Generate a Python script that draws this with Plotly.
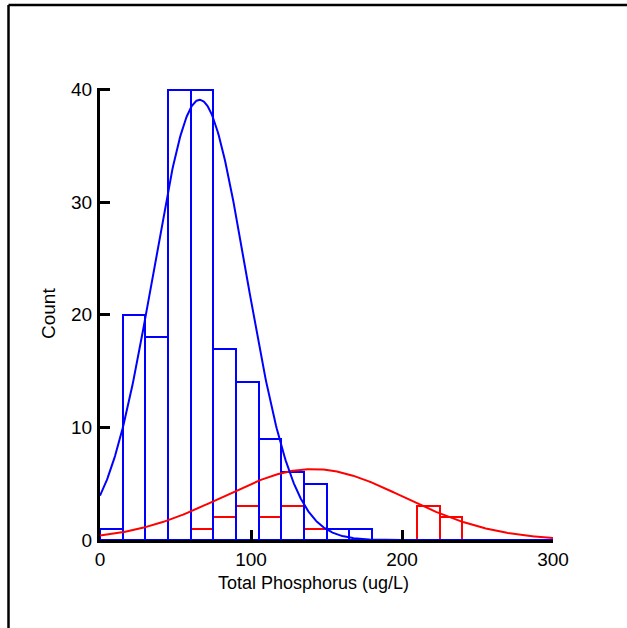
import numpy as np
import plotly.graph_objects as go

# ---- data ----
bin_width = 15
blue_bin_starts = [0, 15, 30, 45, 60, 75, 90, 105, 120, 135, 150, 165]
blue_counts = [1, 20, 18, 40, 40, 17, 14, 9, 6, 5, 1, 1]

red_bin_starts = [60, 75, 90, 105, 120, 135, 210, 225]
red_counts = [1, 2, 3, 2, 3, 1, 3, 2]

# fitted normal curves (mean, sd, height of curve at its peak)
blue_mean, blue_sd, blue_peak = 66.0, 30.8, 39.1
red_mean, red_sd, red_peak = 141.0, 60.0, 6.3

x_ticks = [0, 100, 200, 300]
y_ticks = [0, 10, 20, 30, 40]
x_title = "Total Phosphorus (ug/L)"
y_title = "Count"

BLUE = "#0000FF"
RED = "#FF0000"

curve_x = np.linspace(0, 300, 601)
def normal_curve(mean, sd, peak):
    return peak * np.exp(-((curve_x - mean) ** 2) / (2 * sd ** 2))

fig = go.Figure()

fig.add_trace(go.Bar(
    x=[s + bin_width / 2 for s in red_bin_starts], y=red_counts, width=bin_width,
    marker=dict(color="rgba(0,0,0,0)", line=dict(color=RED, width=2)),
    hoverinfo="skip", showlegend=False))
fig.add_trace(go.Scatter(
    x=curve_x, y=normal_curve(red_mean, red_sd, red_peak), mode="lines",
    line=dict(color=RED, width=2), showlegend=False, hoverinfo="skip"))
fig.add_trace(go.Bar(
    x=[s + bin_width / 2 for s in blue_bin_starts], y=blue_counts, width=bin_width,
    marker=dict(color="rgba(0,0,0,0)", line=dict(color=BLUE, width=2)),
    hoverinfo="skip", showlegend=False))
fig.add_trace(go.Scatter(
    x=curve_x, y=normal_curve(blue_mean, blue_sd, blue_peak), mode="lines",
    line=dict(color=BLUE, width=2), showlegend=False, hoverinfo="skip"))

W, H = 627, 628
L, R, T, B = 100, 74, 88, 88
pw, ph = W - L - R, H - T - B

def px_to_paper_x(px):
    return (px - L) / pw
def px_to_paper_y(py):
    return (H - B - py) / ph

font_family = "Liberation Sans, Arial, sans-serif"

fig.update_layout(
    width=W, height=H,
    margin=dict(l=L, r=R, t=T, b=B, pad=0),
    paper_bgcolor="white", plot_bgcolor="white",
    barmode="overlay", bargap=0,
    font=dict(family=font_family, color="black", size=19),
    xaxis=dict(
        range=[0, 300], tickvals=x_ticks, ticktext=[str(v) for v in x_ticks],
        showgrid=False, zeroline=False, showline=True, linecolor="black", linewidth=3,
        ticks="inside", ticklen=10, tickwidth=3, tickcolor="black",
        tickfont=dict(size=19, family=font_family, color="black"),
        ticklabelstandoff=0,
    ),
    yaxis=dict(
        range=[0, 40.15], tickvals=y_ticks, ticktext=[str(v) for v in y_ticks],
        showgrid=False, zeroline=False, showline=True, linecolor="black", linewidth=3,
        ticks="inside", ticklen=10, tickwidth=3, tickcolor="black",
        tickfont=dict(size=19, family=font_family, color="black"),
        ticklabelstandoff=1,
    ),
    annotations=[
        dict(text=x_title, xref="paper", yref="paper",
             x=px_to_paper_x(313), y=px_to_paper_y(583), xanchor="center", yanchor="middle",
             showarrow=False, font=dict(size=18, family=font_family, color="black")),
        dict(text=y_title, xref="paper", yref="paper", textangle=-90,
             x=px_to_paper_x(48), y=px_to_paper_y(314), xanchor="center", yanchor="middle",
             showarrow=False, font=dict(size=19, family=font_family, color="black")),
    ],
    shapes=[
        dict(type="line", xref="paper", yref="paper",
             x0=px_to_paper_x(8.5), x1=px_to_paper_x(630), y0=px_to_paper_y(5), y1=px_to_paper_y(5),
             line=dict(color="black", width=2.5), layer="above"),
        dict(type="line", xref="paper", yref="paper",
             x0=px_to_paper_x(8.5), x1=px_to_paper_x(8.5), y0=px_to_paper_y(5), y1=px_to_paper_y(632),
             line=dict(color="black", width=2.5), layer="above"),
    ],
)

fig.write_html(
    "out.html",
    config={"displayModeBar": False},
    post_script="document.body.style.margin='0px'; document.body.style.overflow='hidden';",
)
